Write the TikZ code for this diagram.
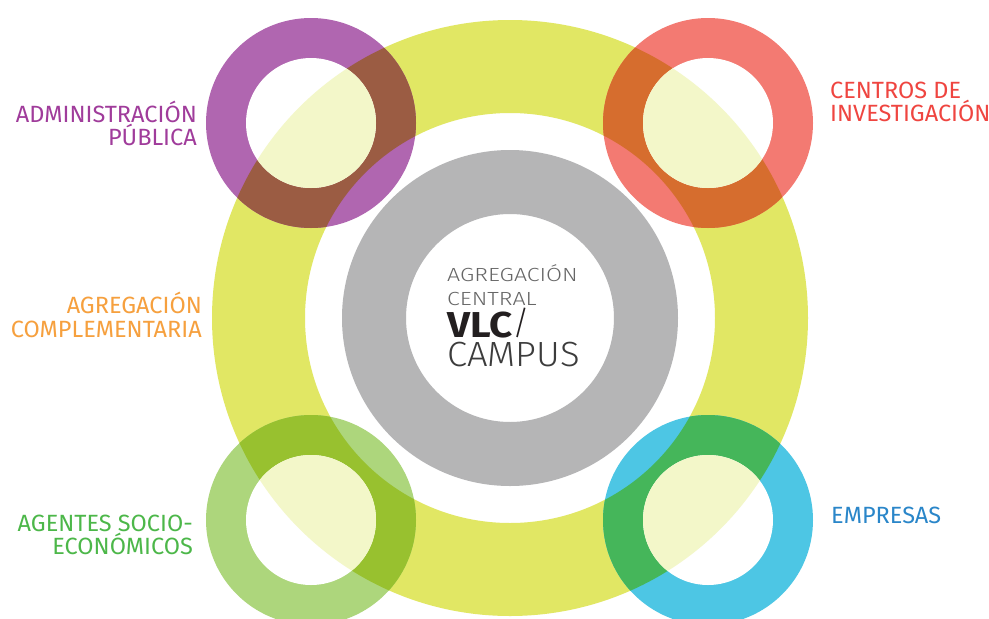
\documentclass[tikz,border=0pt]{standalone}
\usepackage{fontspec}
\setmainfont{Fira Sans}
\newfontfamily\lightfont{Fira Sans Light}
\definecolor{yel}{HTML}{E1E764}
\definecolor{paleyel}{HTML}{F3F7C9}
\definecolor{gry}{HTML}{B5B5B6}
\definecolor{purp}{HTML}{B066B0}
\definecolor{purpov}{HTML}{9B5C43}
\definecolor{redr}{HTML}{F37A72}
\definecolor{redov}{HTML}{D66D2E}
\definecolor{grnr}{HTML}{ADD67C}
\definecolor{grnov}{HTML}{98C12F}
\definecolor{blur}{HTML}{4DC6E4}
\definecolor{bluov}{HTML}{45B65A}
\definecolor{tpurp}{HTML}{A03C9B}
\definecolor{tred}{HTML}{EF4540}
\definecolor{torange}{HTML}{F6A03E}
\definecolor{tgreen}{HTML}{4CB749}
\definecolor{tblue}{HTML}{2A86C9}
\definecolor{tgray}{HTML}{666666}
\definecolor{tdark}{HTML}{231F20}
\definecolor{tcampus}{HTML}{3C3C3C}
\newcommand\ringpair[3]{%
  \fill[#2] (#1) circle[radius=105];
  \begin{scope}
    \clip (#1) circle[radius=105];
    \fill[#3, even odd rule] (C) circle[radius=298] (C) circle[radius=205];
  \end{scope}
  \fill[white] (#1) circle[radius=65];
  \begin{scope}
    \clip (#1) circle[radius=65];
    \fill[paleyel, even odd rule] (C) circle[radius=298] (C) circle[radius=205];
  \end{scope}
}
\begin{document}
\begin{tikzpicture}[x=1pt,y=-1pt,
  lbl/.style={inner sep=0pt, font=\fontsize{23.5}{23.5}\selectfont},
  ctr/.style={inner sep=0pt, anchor=base west}]
\useasboundingbox (0,0) rectangle (989,619);
\fill[white] (0,0) rectangle (989,619);
\coordinate (C) at (510,318);
\fill[yel, even odd rule] (C) circle[radius=298] (C) circle[radius=205];
\fill[gry, even odd rule] (C) circle[radius=168] (C) circle[radius=104];
\coordinate (TL) at (311,123);
\coordinate (TR) at (708,123);
\coordinate (BL) at (311,520);
\coordinate (BR) at (708,520);
\ringpair{TL}{purp}{purpov}
\ringpair{TR}{redr}{redov}
\ringpair{BL}{grnr}{grnov}
\ringpair{BR}{blur}{bluov}
% side labels
\node[lbl, text=tpurp, anchor=base east] (adm1) at (197,122) {ADMINISTRACIÓN};
\node[lbl, text=tpurp, anchor=base east] (adm2) at (197,145) {PÚBLICA};
\node[lbl, text=tred, anchor=base west] (cen1) at (830,98) {CENTROS DE};
\node[lbl, text=tred, anchor=base west] (cen2) at (830,121) {INVESTIGACIÓN};
\node[lbl, text=torange, anchor=base east] (agr1) at (202,313) {AGREGACIÓN};
\node[lbl, text=torange, anchor=base east] (agr2) at (202,337) {COMPLEMENTARIA};
\node[lbl, text=tgreen, anchor=base east] (age1) at (193,531) {AGENTES SOCIO-};
\node[lbl, text=tgreen, anchor=base east] (age2) at (193,554) {ECONÓMICOS};
\node[lbl, text=tblue, anchor=base west] (emp) at (831,523) {EMPRESAS};
% centre
\node[ctr, text=tgray, font=\lightfont\fontsize{19}{19}\selectfont] (c1) at (447,281) {\scalebox{1.22}[1]{AGREGACIÓN}};
\node[ctr, text=tgray, font=\lightfont\fontsize{19}{19}\selectfont] (c2) at (447,305) {\scalebox{1.22}[1]{CENTRAL}};
\node[ctr, text=tdark, text depth=0pt, font=\bfseries\fontsize{36}{36}\selectfont] (c3) at (447,337) {\scalebox{1.12}[1]{VLC}\raisebox{3pt}{\mdseries\lightfont\fontsize{33}{33}\selectfont/}};
\node[ctr, text=tcampus, text height=24pt, font=\lightfont\fontsize{35}{35}\selectfont] (c4) at (447,366) {\scalebox{1.04}[1]{CAMPUS}};
\end{tikzpicture}
\end{document}
